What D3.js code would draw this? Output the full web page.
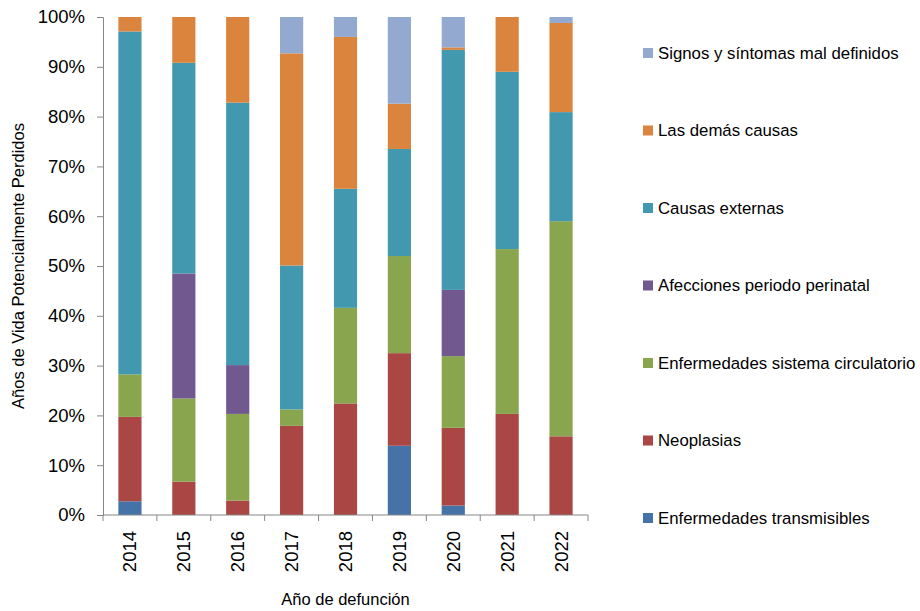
<!DOCTYPE html>
<html>
<head>
<meta charset="utf-8">
<script src="https://cdn.jsdelivr.net/npm/d3@7"></script>
<style>
  body { margin: 0; background: #fff; }
  text { font-family: "Liberation Sans", Arial, sans-serif; fill: #000; }
</style>
</head>
<body>
<div id="chart"></div>
<script>
// categories and series (share of years lost, %)
var years = ['2014', '2015', '2016', '2017', '2018', '2019', '2020', '2021', '2022'];
var seriesNames = [
    'Enfermedades transmisibles',
    'Neoplasias',
    'Enfermedades sistema circulatorio',
    'Afecciones periodo perinatal',
    'Causas externas',
    'Las demás causas',
    'Signos y síntomas mal definidos'
];
var transmisibles = [2.75, 0, 0, 0, 0, 13.9, 1.9, 0, 0];
var neoplasias    = [16.95, 6.7, 2.9, 17.9, 22.4, 18.6, 15.6, 20.3, 15.8];
var circulatorio  = [8.55, 16.7, 17.4, 3.3, 19.2, 19.5, 14.4, 33.1, 43.2];
var perinatal     = [0, 25.1, 9.8, 0, 0, 0, 13.3, 0, 0];
var externas      = [68.85, 42.3, 52.7, 28.9, 23.9, 21.5, 48.2, 35.6, 21.9];
var demas         = [2.9, 9.2, 17.2, 42.6, 30.5, 9.1, 0.5, 11.0, 17.9];
var signos        = [0, 0, 0, 7.3, 4.0, 17.4, 6.1, 0, 1.2];
var yTicks = [0, 10, 20, 30, 40, 50, 60, 70, 80, 90, 100];

var colors = ['#4572A7', '#AA4643', '#89A54E', '#71588F', '#4198AF', '#DB843D', '#93A9CF'];
var allSeries = [transmisibles, neoplasias, circulatorio, perinatal, externas, demas, signos];

var width = 920, height = 611;
var margin = { left: 103, top: 17, right: 332, bottom: 96 };

var rows = years.map(function (y, i) {
    var r = { year: y };
    seriesNames.forEach(function (s, j) { r[s] = allSeries[j][i]; });
    return r;
});
var stacked = d3.stack().keys(seriesNames)(rows);

var svg = d3.select('#chart').append('svg')
    .attr('width', width)
    .attr('height', height);

var x = d3.scaleBand()
    .domain(years)
    .range([margin.left, width - margin.right])
    .paddingInner(0.57)
    .paddingOuter(0.285);

var y = d3.scaleLinear()
    .domain([0, 100])
    .range([height - margin.bottom, margin.top]);

// bars
svg.append('g').selectAll('g')
    .data(stacked)
    .enter()
    .append('g')
    .attr('fill', function (d, i) { return colors[i]; })
    .selectAll('rect')
    .data(function (d) { return d; })
    .enter()
    .append('rect')
    .attr('x', function (d) { return x(d.data.year); })
    .attr('width', x.bandwidth())
    .attr('y', function (d) { return y(d[1]); })
    .attr('height', function (d) { return y(d[0]) - y(d[1]); });

// y axis
var yAxis = svg.append('g')
    .attr('transform', 'translate(' + margin.left + ',0)')
    .call(d3.axisLeft(y).tickValues(yTicks).tickSize(6).tickPadding(12)
        .tickFormat(function (d) { return d + '%'; }));
yAxis.selectAll('line, path').attr('stroke', '#868686');
yAxis.selectAll('text').style('font-size', '18.5px').style('font-family', '"Liberation Sans", Arial, sans-serif').attr('fill', '#000');

// x axis: labels rotated, ticks on category boundaries
var xAxis = svg.append('g')
    .attr('transform', 'translate(0,' + y(0) + ')')
    .call(d3.axisBottom(x).tickSize(0).tickPadding(0));
xAxis.select('path').attr('stroke', '#868686').attr('d', 'M' + margin.left + ',0H' + (width - margin.right));
xAxis.selectAll('text')
    .style('font-size', '18.5px')
    .style('font-family', '"Liberation Sans", Arial, sans-serif')
    .attr('fill', '#000')
    .attr('text-anchor', 'end')
    .attr('transform', 'rotate(-90)')
    .attr('x', -16)
    .attr('y', 0)
    .attr('dy', '0.35em');

var bounds = d3.range(years.length + 1).map(function (i) { return margin.left + i * x.step(); });
xAxis.selectAll('line.bound')
    .data(bounds)
    .enter()
    .append('line')
    .attr('class', 'bound')
    .attr('x1', function (d) { return d; })
    .attr('x2', function (d) { return d; })
    .attr('y1', 0)
    .attr('y2', 6)
    .attr('stroke', '#868686');

// axis titles
svg.append('text')
    .attr('transform', 'translate(24,' + (margin.top + (y(0) - margin.top) / 2) + ') rotate(-90)')
    .attr('text-anchor', 'middle')
    .style('font-size', '16.5px')
    .text('Años de Vida Potencialmente Perdidos');

svg.append('text')
    .attr('x', (margin.left + width - margin.right) / 2)
    .attr('y', 605)
    .attr('text-anchor', 'middle')
    .style('font-size', '16.5px')
    .text('Año de defunción');

// legend, top item is last series
var legend = svg.append('g').selectAll('g')
    .data(seriesNames.slice().reverse())
    .enter()
    .append('g')
    .attr('transform', function (d, i) { return 'translate(643,' + (53 + i * 77.5) + ')'; });

legend.append('rect')
    .attr('x', 0)
    .attr('y', -5)
    .attr('width', 10)
    .attr('height', 10)
    .attr('fill', function (d, i) { return colors[colors.length - 1 - i]; });

legend.append('text')
    .attr('x', 15)
    .attr('y', 0)
    .attr('dy', '0.35em')
    .style('font-size', '16.8px')
    .text(function (d) { return d; });
</script>
</body>
</html>
